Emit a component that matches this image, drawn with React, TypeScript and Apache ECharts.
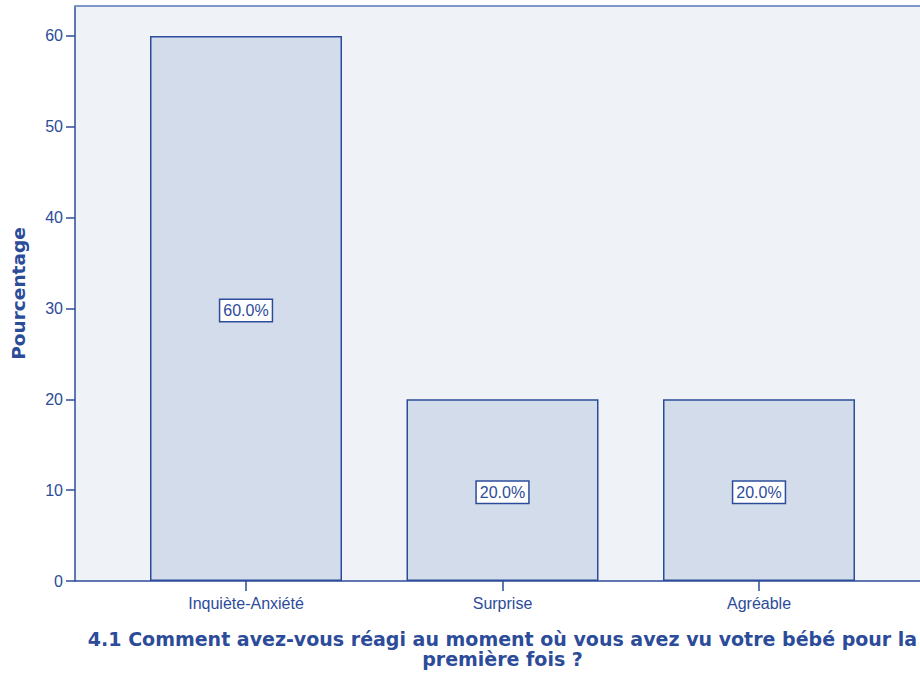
import React, { useEffect, useRef } from "react";
import * as echarts from "echarts";

const categories = ["Inquiète-Anxiété", "Surprise", "Agréable"];
const percentages = [60, 20, 20];
const yTicks = [0, 10, 20, 30, 40, 50, 60];
const xAxisTitle = "4.1 Comment avez-vous réagi au moment où vous avez vu votre bébé pour la\npremière fois ?";
const yAxisTitle = "Pourcentage";

const BLUE = "#2C4C9A";
const FONT = "'Liberation Sans', Arial, sans-serif";
const TITLE_FONT = "'DejaVu Sans', 'Liberation Sans', sans-serif";

export default function App() {
  const ref = useRef<HTMLDivElement>(null);
  useEffect(() => {
    document.body.style.margin = "0";
    const chart = echarts.init(ref.current!, null, { renderer: "svg" });
    chart.setOption({
      animation: false,
      backgroundColor: "#ffffff",
      textStyle: { fontFamily: FONT },
      grid: {
        left: 75,
        top: 6,
        width: 855,
        height: 575,
        show: true,
        backgroundColor: "#EFF2F7",
        borderWidth: 0,
      },
      xAxis: {
        type: "value",
        min: -2 / 3,
        max: 8 / 3,
        splitLine: { show: false },
        axisLine: { show: true, onZero: false, lineStyle: { color: BLUE, width: 1.5 } },
        axisTick: { show: true, length: 10, customValues: [0, 1, 2], lineStyle: { color: BLUE, width: 1.5 } },
        axisLabel: {
          customValues: [0, 1, 2],
          formatter: (v: number) => categories[Math.round(v)] ?? "",
          color: BLUE,
          fontSize: 16,
          margin: 14,
          fontFamily: FONT,
        },
        name: xAxisTitle,
        nameLocation: "middle",
        nameGap: 48,
        nameTextStyle: {
          color: BLUE,
          fontSize: 19,
          fontWeight: "bold",
          lineHeight: 20,
          align: "center",
          fontFamily: TITLE_FONT,
        },
      },
      yAxis: {
        type: "value",
        min: 0,
        max: 63.3,
        splitLine: { show: false },
        axisLine: { show: true, onZero: false, lineStyle: { color: BLUE, width: 1.5 } },
        axisTick: { show: true, length: 9, customValues: yTicks, lineStyle: { color: BLUE, width: 1.5 } },
        axisLabel: {
          customValues: yTicks,
          color: BLUE,
          fontSize: 16,
          margin: 12,
          fontFamily: FONT,
        },
        name: yAxisTitle,
        nameLocation: "middle",
        nameGap: 47,
        nameTextStyle: {
          color: BLUE,
          fontSize: 18.5,
          fontWeight: "bold",
          fontFamily: TITLE_FONT,
        },
      },
      graphic: [
        {
          type: "line",
          shape: { x1: 75, y1: 6, x2: 940, y2: 6 },
          style: { stroke: "#7E95C9", lineWidth: 2 },
          z: 10,
        },
      ],
      series: [
        {
          type: "bar",
          barWidth: 192,
          data: percentages.map((v, i) => [i, v]),
          itemStyle: { color: "#D3DCEB", borderColor: BLUE, borderWidth: 1.5 },
          label: {
            show: true,
            position: "inside",
            offset: [0, 2],
            formatter: (p: any) => p.value[1].toFixed(1) + "%",
            color: BLUE,
            fontSize: 16,
            fontFamily: FONT,
            backgroundColor: "#ffffff",
            borderColor: BLUE,
            borderWidth: 1.5,
            padding: [3, 3, 2, 3],
          },
        },
      ],
    });
    return () => chart.dispose();
  }, []);
  return (
    <div style={{ position: "absolute", left: 0, top: 0, width: 920, height: 679, overflow: "hidden" }}>
      <div ref={ref} style={{ width: 940, height: 679 }} />
    </div>
  );
}
